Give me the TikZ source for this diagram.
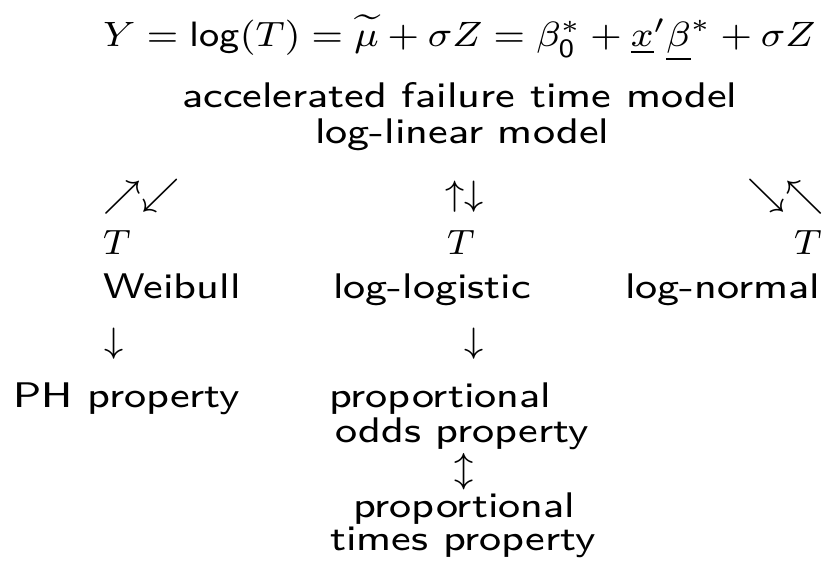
\documentclass[tikz,border=0pt]{standalone}
\newcommand\slidetext[1]{\scalebox{5.2}[4.45]{\fontsize{8}{9.6}\selectfont\sffamily #1}}
\newcommand\slidemath[1]{\scalebox{4.75}[4.4]{\fontsize{8}{9.6}\selectfont\sffamily #1}}
\newcommand\slidearrow[1]{\scalebox{4.5}[4.4]{\fontsize{8}{9.6}\selectfont #1}}
\tikzset{
  lbl/.style={inner sep=0pt, anchor=base west},
}
\begin{document}
\begin{tikzpicture}[x=1pt,y=1pt]
\useasboundingbox (0,0) rectangle (825,-562);
\node[lbl] (formula) at (103,-46) {\slidemath{$Y=\mathsf{log}(T)=\widetilde{\mu}+\sigma Z=\beta_{\mathsf{0}}^{*}+\underline{x}'\underline{\beta}^{*}+\sigma Z$}};
\node[lbl] (aft) at (182,-107) {\slidetext{accelerated failure time model}};
\node[lbl] (loglin) at (315,-143) {\slidetext{log-linear model}};
\node[lbl] (arrW) at (103,-205) {\slidearrow{$\nearrow\swarrow$}};
\node[lbl] (arrL) at (445,-205) {\slidearrow{$\uparrow\downarrow$}};
\node[lbl] (arrN) at (747,-205) {\slidearrow{$\searrow\nwarrow$}};
\node[lbl] (TW) at (103,-254) {\slidearrow{$T$}};
\node[lbl] (TL) at (447,-254) {\slidearrow{$T$}};
\node[lbl] (TN) at (794,-254) {\slidearrow{$T$}};
\node[lbl] (weib) at (103,-298) {\slidetext{Weibull}};
\node[lbl] (logl) at (333,-298) {\slidetext{log-logistic}};
\node[lbl] (logn) at (625,-298) {\slidetext{log-normal}};
\node[lbl] (dW) at (104,-352) {\slidearrow{$\downarrow$}};
\node[lbl] (dL) at (464,-352) {\slidearrow{$\downarrow$}};
\node[lbl] (ph) at (13,-407) {\slidetext{PH property}};
\node[lbl] (po1) at (329,-407) {\slidetext{proportional}};
\node[lbl] (po2) at (335,-442) {\slidetext{odds property}};
\node[lbl] (ud) at (454,-480) {\slidearrow{$\updownarrow$}};
\node[lbl] (pt1) at (353,-517) {\slidetext{proportional}};
\node[lbl] (pt2) at (330,-550) {\slidetext{times property}};
\end{tikzpicture}
\end{document}
